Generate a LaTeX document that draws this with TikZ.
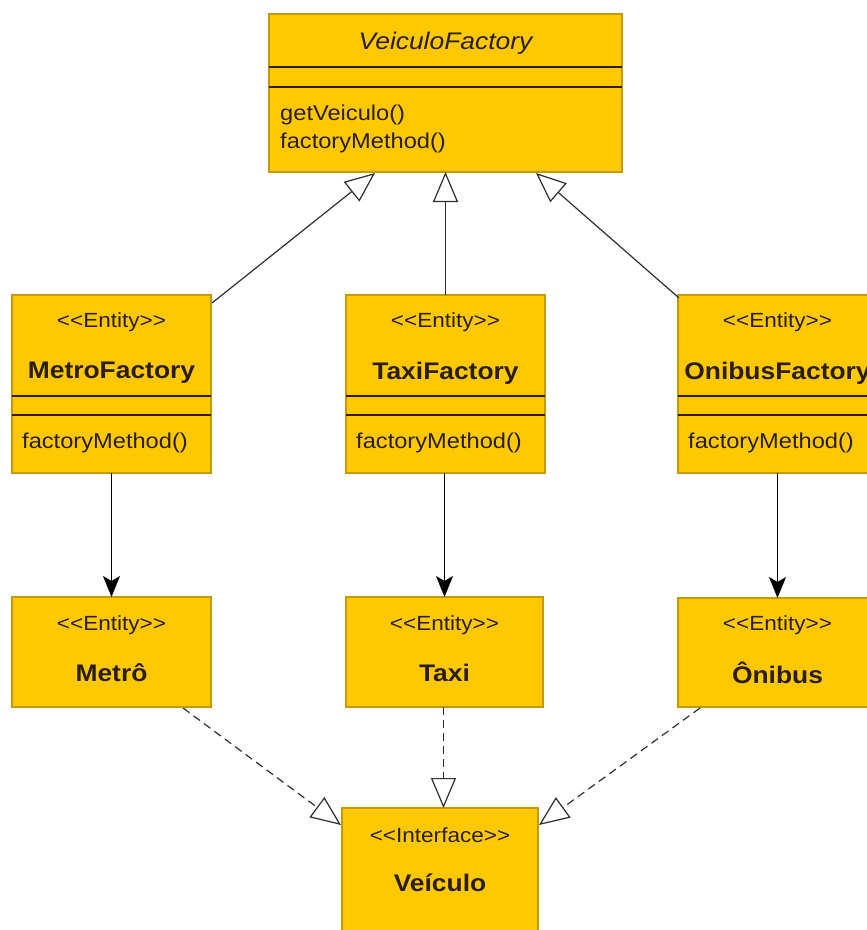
\documentclass[tikz,border=0pt]{standalone}
\usepackage{fontspec}
\setmainfont{Liberation Sans}[FakeStretch=1.1]
\usetikzlibrary{arrows.meta,calc}
\definecolor{umlfill}{RGB}{255,200,0}
\definecolor{umledge}{RGB}{196,154,0}
\definecolor{umlink}{RGB}{42,30,0}
\definecolor{umlline}{RGB}{45,45,45}
% guillemet-free stereotype brackets
\newcommand{\stL}{<\kern0pt<}
\newcommand{\stR}{>\kern0pt>}

\begin{document}
\begin{tikzpicture}[x=1pt,y=-1pt,
  classbox/.style={rectangle, draw=umledge, fill=umlfill, line width=1.1pt,
    anchor=north west, inner sep=0pt, outer sep=0pt},
  stereo/.style={text=umlink, inner sep=0pt, font=\fontsize{20.5}{24}\selectfont},
  cname/.style={text=umlink, inner sep=0pt, font=\fontsize{24}{28}\selectfont\bfseries},
  aname/.style={text=umlink, inner sep=0pt, font=\fontsize{24}{28}\selectfont\itshape},
  member/.style={text=umlink, inner sep=0pt, anchor=west, font=\fontsize{21.5}{25}\selectfont},
  divider/.style={draw=umlink, line width=1.5pt},
  generalize/.style={draw=umlline, line width=1.2pt,
    -{Triangle[open, length=30pt, width=25pt, line width=1.2pt]}},
  realize/.style={generalize, dash pattern=on 8pt off 5pt},
  assoc/.style={draw=black, line width=1.3pt,
    -{Stealth[length=21pt, width=17pt, inset=5pt]}}
]
\useasboundingbox (0,0) rectangle (867,930);
\clip (0,0) rectangle (867,930);

% abstract creator
\node[classbox, minimum width=353pt, minimum height=158pt] (vf) at (269,14) {};
\node[aname] (vft) at ($(vf.north)+(0,29)$) {VeiculoFactory};
\draw[divider] ($(vf.north west)+(0,53)$) -- ($(vf.north east)+(0,53)$);
\draw[divider] ($(vf.north west)+(0,73)$) -- ($(vf.north east)+(0,73)$);
\node[member] (vfm1) at ($(vf.north west)+(11,101)$) {getVeiculo()};
\node[member] (vfm2) at ($(vf.north west)+(11,129)$) {factoryMethod()};

% concrete creators
\node[classbox, minimum width=199pt, minimum height=178pt] (mf) at (12,295) {};
\node[stereo] (mfs) at ($(mf.north)+(0,27)$) {\stL Entity\stR};
\node[cname] (mfn) at ($(mf.north)+(0,78)$) {MetroFactory};
\draw[divider] ($(mf.north west)+(0,101)$) -- ($(mf.north east)+(0,101)$);
\draw[divider] ($(mf.north west)+(0,120)$) -- ($(mf.north east)+(0,120)$);
\node[member] (mfm) at ($(mf.north west)+(10,148)$) {factoryMethod()};

\node[classbox, minimum width=199pt, minimum height=178pt] (tf) at (346,295) {};
\node[stereo] (tfs) at ($(tf.north)+(0,27)$) {\stL Entity\stR};
\node[cname] (tfn) at ($(tf.north)+(0,78)$) {TaxiFactory};
\draw[divider] ($(tf.north west)+(0,101)$) -- ($(tf.north east)+(0,101)$);
\draw[divider] ($(tf.north west)+(0,120)$) -- ($(tf.north east)+(0,120)$);
\node[member] (tfm) at ($(tf.north west)+(10,148)$) {factoryMethod()};

\node[classbox, minimum width=199pt, minimum height=178pt] (of) at (678,295) {};
\node[stereo] (ofs) at ($(of.north)+(0,27)$) {\stL Entity\stR};
\node[cname] (ofn) at ($(of.north)+(0,78)$) {OnibusFactory};
\draw[divider] ($(of.north west)+(0,101)$) -- ($(of.north east)+(0,101)$);
\draw[divider] ($(of.north west)+(0,120)$) -- ($(of.north east)+(0,120)$);
\node[member] (ofm) at ($(of.north west)+(10,148)$) {factoryMethod()};

% products
\node[classbox, minimum width=199pt, minimum height=110pt] (me) at (12,597) {};
\node[stereo] (mes) at ($(me.north)+(0,28)$) {\stL Entity\stR};
\node[cname] (men) at ($(me.north)+(0,76)$) {Metrô};

\node[classbox, minimum width=197pt, minimum height=110pt] (tx) at (346,597) {};
\node[stereo] (txs) at ($(tx.north)+(0,28)$) {\stL Entity\stR};
\node[cname] (txn) at ($(tx.north)+(0,76)$) {Taxi};

\node[classbox, minimum width=199pt, minimum height=109pt] (on) at (678,598) {};
\node[stereo] (ons) at ($(on.north)+(0,27)$) {\stL Entity\stR};
\node[cname] (onn) at ($(on.north)+(0,75)$) {Ônibus};

% product interface
\node[classbox, minimum width=196pt, minimum height=150pt] (ve) at (342,808) {};
\node[stereo] (ves) at ($(ve.north)+(0,27)$) {\stL Interface\stR};
\node[cname] (ven) at ($(ve.north)+(0,75)$) {Veículo};

% inheritance
\draw[generalize] ($(mf.north east)+(1,8)$) -- ($(vf.south)+(-70.5,1)$);
\draw[generalize] (tf.north) -- (vf.south);
\draw[generalize] ($(of.north west)+(1,3)$) -- ($(vf.south)+(90.5,1)$);

% creation
\draw[assoc] (mf.south) -- (me.north);
\draw[assoc] ($(tf.south)+(-1,0)$) -- (tx.north);
\draw[assoc] (of.south) -- (on.north);

% realization
\draw[realize] ($(me.south east)+(-28,1)$) -- ($(ve.north west)+(-1,17)$);
\draw[realize] ($(tx.south)+(-1,0)$) -- ($(tx.south)+(-1,101)$);
\draw[realize] ($(on.south west)+(22,1)$) -- ($(ve.north east)+(1,17)$);
\end{tikzpicture}
\end{document}
